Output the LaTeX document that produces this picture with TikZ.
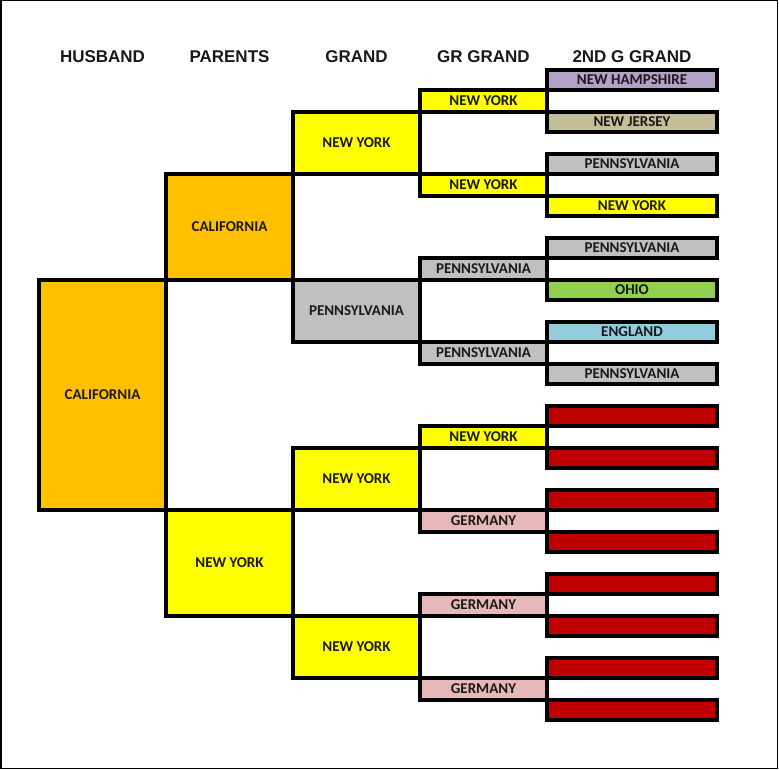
\documentclass[tikz,border=0pt]{standalone}
\usepackage{fontspec}
\setmainfont{Carlito}
\newfontfamily\hdrfont{Liberation Sans}
\definecolor{corange}{HTML}{FFC000}
\definecolor{cyellow}{HTML}{FFFF00}
\definecolor{cgray}{HTML}{C0C0C0}
\definecolor{clav}{HTML}{B3A2C7}
\definecolor{ctan}{HTML}{C4BD97}
\definecolor{cgreen}{HTML}{92D050}
\definecolor{cblue}{HTML}{93CDDD}
\definecolor{cpink}{HTML}{E6B9B8}
\definecolor{cred}{HTML}{C00000}
\tikzset{
  box/.style={draw=black, line width=3.2pt, rectangle, inner sep=0pt, outer sep=0pt,
    font=\fontsize{15}{15}\selectfont\bfseries, text=black!90},
  hdr/.style={font=\hdrfont\fontsize{17}{17}\selectfont\bfseries, text=black!90},
  col1/.style={box, minimum width=127pt},
  col5/.style={box, minimum width=170pt},
}
\begin{document}
\begin{tikzpicture}[x=1pt,y=-1pt]
\useasboundingbox (0,0) rectangle (779,770);
\draw[line width=1.5pt] (0.75,0.75) rectangle (777.5,768.5);
% headers
\node[hdr] (h1) at (102.5,57) {HUSBAND};
\node[hdr] (h2) at (229.5,57) {PARENTS};
\node[hdr] (h3) at (356.5,57) {GRAND};
\node[hdr] (h4) at (483.5,57) {GR GRAND};
\node[hdr] (h5) at (632,57) {2ND G GRAND};
% husband
\node[col1, fill=corange, minimum height=230pt] (hus) at (102.5,395) {CALIFORNIA};
% parents
\node[col1, fill=corange, minimum height=106pt] (p1) at (229.5,227) {CALIFORNIA};
\node[col1, fill=cyellow, minimum height=106pt] (p2) at (229.5,563) {NEW YORK};
% grand
\node[col1, fill=cyellow, minimum height=62pt] (gp1) at (356.5,143) {NEW YORK};
\node[col1, fill=cgray, minimum height=62pt] (gp2) at (356.5,311) {PENNSYLVANIA};
\node[col1, fill=cyellow, minimum height=62pt] (gp3) at (356.5,479) {NEW YORK};
\node[col1, fill=cyellow, minimum height=62pt] (gp4) at (356.5,647) {NEW YORK};
% great grand
\foreach \i/\c/\t in {0/cyellow/NEW YORK,1/cyellow/NEW YORK,2/cgray/PENNSYLVANIA,3/cgray/PENNSYLVANIA,
  4/cyellow/NEW YORK,5/cpink/GERMANY,6/cpink/GERMANY,7/cpink/GERMANY}{
  \node[col1, fill=\c, minimum height=22pt] (gg\i) at (483.5,101+84*\i) {\t};
}
% 2nd great grand
\foreach \i/\c/\t in {0/clav/NEW HAMPSHIRE,1/ctan/NEW JERSEY,2/cgray/PENNSYLVANIA,3/cyellow/NEW YORK,
  4/cgray/PENNSYLVANIA,5/cgreen/OHIO,6/cblue/ENGLAND,7/cgray/PENNSYLVANIA,
  8/cred/,9/cred/,10/cred/,11/cred/,12/cred/,13/cred/,14/cred/,15/cred/}{
  \node[col5, fill=\c, minimum height=20pt] (g\i) at (632,80+42*\i) {\t};
}
\end{tikzpicture}
\end{document}
